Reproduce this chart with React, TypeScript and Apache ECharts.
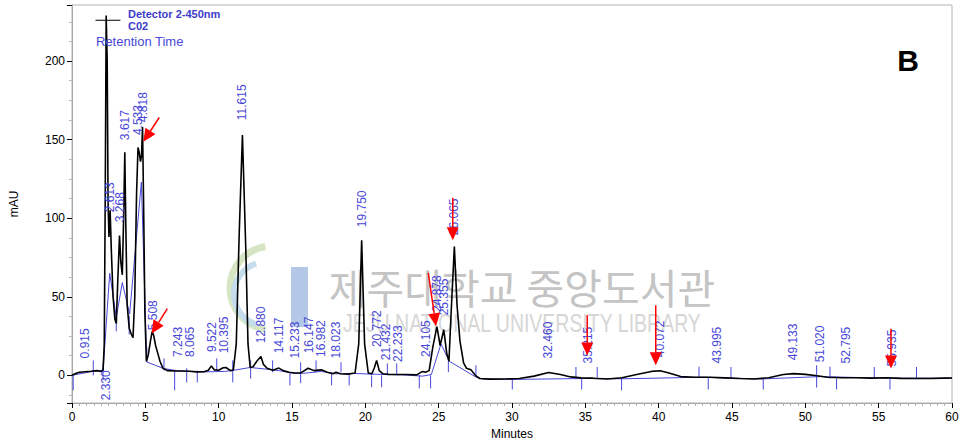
import React, { useEffect, useRef } from "react";
import * as echarts from "echarts";

const FONT = '"Liberation Sans", Arial, sans-serif';
const LABEL_BLUE = "#4848d8";
const TITLE_BLUE = "#3c3cc8";

// Detector trace: [minutes, mAU]
const trace: [number, number][] = [
  [0, 0], [0.2, 1.0], [0.5, 2.0], [0.9, 2.3], [1.3, 2.6], [1.7, 3.0], [2.0, 2.5], [2.12, 3.5],
  [2.2, 20], [2.27, 120], [2.33, 229], [2.4, 200], [2.46, 110], [2.52, 88], [2.6, 105], [2.68, 80],
  [2.8, 50], [2.92, 36], [3.02, 33], [3.12, 60], [3.24, 89], [3.33, 72], [3.43, 64], [3.52, 100],
  [3.6, 142], [3.67, 95], [3.76, 45], [3.9, 30], [4.05, 26], [4.16, 24], [4.28, 50], [4.4, 115],
  [4.5, 145], [4.58, 142], [4.67, 136], [4.74, 140], [4.81, 158], [4.88, 110], [4.97, 40], [5.07, 9],
  [5.2, 13], [5.35, 22], [5.47, 28], [5.58, 25], [5.7, 19], [5.85, 14], [6.0, 9], [6.2, 4.5],
  [6.5, 3.0], [7.0, 2.8], [7.5, 2.8], [8.0, 2.6], [8.5, 2.2], [9.0, 2.3], [9.3, 3.2], [9.5, 6.0],
  [9.7, 3.5], [10.0, 3.2], [10.3, 4.8], [10.5, 5.0], [10.8, 3.0], [11.0, 3.4], [11.2, 20], [11.4, 90],
  [11.62, 153], [11.85, 80], [12.0, 20], [12.15, 5], [12.35, 5.5], [12.6, 9], [12.88, 12], [13.05, 7],
  [13.3, 4.5], [13.7, 3.2], [14.1, 4.6], [14.4, 3], [14.8, 2], [15.2, 1.5], [15.6, 1.6], [16.1, 4.5],
  [16.5, 3], [17.0, 3.5], [17.4, 2], [17.8, 1], [18.0, 2], [18.3, 1], [18.8, 0.8], [19.3, 1.5],
  [19.55, 20], [19.75, 86], [19.95, 20], [20.2, 1.5], [20.45, 1], [20.62, 5], [20.77, 9.5], [20.95, 3],
  [21.2, 1], [21.6, 0.6], [22.2, 0.5], [22.8, 0.5], [23.5, 0.3], [23.9, 2.5], [24.1, 2], [24.35, 3],
  [24.6, 18], [24.88, 31], [25.1, 19], [25.35, 29], [25.55, 14], [25.7, 9], [25.85, 40], [26.07, 82],
  [26.25, 45], [26.45, 22], [26.7, 8], [26.9, 4.5], [27.2, 3.5], [27.5, 0], [27.8, -2], [28.5, -2.4],
  [29.5, -2.3], [30.5, -2], [31.5, -0.5], [32.5, 1.8], [33.3, 0.5], [34.0, -1], [34.7, -1.6], [35.5, -1.8],
  [36.5, -2.3], [37.5, -1.5], [38.5, 0.5], [39.5, 2.5], [40.1, 2.9], [40.7, 1.5], [41.5, -0.8], [42.5, -1.2],
  [43.5, -1.2], [44.5, -1.6], [45.5, -2], [46.5, -2.3], [47.5, -1.5], [48.5, 0.5], [49.2, 1.1], [50.0, 0.6],
  [50.8, -0.3], [51.5, -1.2], [52.5, -1.5], [53.5, -1.5], [54.5, -1.8], [55.5, -1.5], [56.5, -1.9], [57.5, -2],
  [58.5, -2], [59.5, -1.8], [60, -1.7],
];

// Integration baseline drawn by the data system
const integrationBaseline: [number, number][] = [
  [0, 0], [1.45, 2.6], [2.12, 3.2], [2.57, 65], [3.02, 37], [3.43, 59], [3.93, 39], [4.73, 123],
  [5.1, 8.5], [6.27, 4.3], [7.3, 2.8], [8.1, 2.5], [9.0, 2.2], [10.4, 2.5], [11.0, 3.2], [12.15, 5],
  [13.2, 4], [14.1, 3], [15.2, 1.2], [16.0, 1.5], [17.0, 2.5], [18.0, 1.0], [19.3, 1.2], [20.3, 0.8],
  [21.3, 0.6], [22.5, 0.3], [23.9, -0.5], [24.5, 0.5], [25.16, 20], [25.72, 9], [27.54, -1.1], [28, -2.3],
  [30, -2.6], [35, -2], [37.5, -2.2], [43, -1.2], [47, -2.3], [51, -0.8], [55, -1.7], [60, -1.8],
];

// Peak start / end markers: time, low mAU, high mAU
const boundaryTickTimes = [0.08, 1.45, 2.12, 3.02, 3.9, 5.1, 6.27, 7.0, 7.82, 8.54, 9.87, 10.96, 12.18, 13.68, 14.86, 15.59, 16.64, 17.7, 18.34, 18.9, 20.43, 21.11, 21.5, 22.14, 23.68, 24.45, 25.66, 27.54, 30.02, 34.36, 34.75, 35.81, 37.47, 42.75, 43.38, 44.93, 47.13, 50.77, 51.68, 52.13, 54.7, 55.77, 57.58];
const boundaryTickLow = [-9.5, 0, -3, 28, 26, 8.5, 3.2, -9.5, -4.5, -4.5, 3.2, -4.5, -2, 2, -6.4, -5, 2, -6.4, 2, -6.4, -7.6, -7.6, 0, 0, -8.3, -8.3, 2, -1, -9, -2, -9, -1.5, -9.5, -1.5, -9, -2, -9, -7.8, -2, -9, -2, -9, -2.5];
const boundaryTickHigh = [0, 9.5, 8, 40, 38, 18, 10.8, 3.2, 4.5, 3, 10.8, 9.5, 9.5, 9.5, 2, 8.3, 9.5, 2, 8.3, 1.3, 0, 0, 7.6, 7.6, 0, 0, 9, 6.4, -2, 5.3, -2, 5.3, -1.5, 5.5, -1.5, 5.3, -2, 6.4, 5.5, -2, 5.3, -2, 5.3];

// Retention-time labels and the mAU level where each label starts
const peakLabels = ["0.915", "2.330", "2.613", "3.268", "3.617", "4.533", "4.818", "5.508", "7.243", "8.065", "9.522", "10.395", "11.615", "12.880", "14.117", "15.233", "16.147", "16.982", "18.023", "19.750", "20.772", "21.432", "22.233", "24.105", "24.878", "25.355", "26.065", "32.460", "35.215", "40.072", "43.995", "49.133", "51.020", "52.795", "55.935"];
const peakLabelBase = [10.8, -15.9, 103.8, 97.5, 149.7, 152.9, 161.1, 28.7, 11.7, 11.7, 14.8, 14, 162.4, 20.4, 14, 10.8, 14, 11.7, 10.8, 94.3, 18, 9.6, 8.5, 11.7, 40.3, 38.2, 89.2, 10.8, 7.6, 11.5, 7.6, 9.6, 8.3, 7.6, 5.7];

// Red annotation arrows: start and tip, [minutes, mAU]
const arrowStart: [number, number][] = [[5.95, 164.1], [6.5, 42.5], [24.29, 65.2], [25.96, 113], [35.13, 38.2], [39.8, 44.6], [55.84, 29.7]];
const arrowTip: [number, number][] = [[4.86, 148.6], [5.43, 26.6], [24.82, 31.2], [25.96, 86], [35.13, 12.7], [39.8, 6.4], [55.84, 4.3]];

// Over-range marker on the solvent peak
const overRangeMark: [number, number][] = [[1.6, 226], [3.3, 226]];

export default function App() {
  const ref = useRef<HTMLDivElement>(null);
  useEffect(() => {
    if (!ref.current) return;
    const chart = echarts.init(ref.current, undefined, { renderer: "svg" });
    const option: any = {
      animation: false,
      backgroundColor: "#ffffff",
      textStyle: { fontFamily: FONT },
      grid: { left: 72, right: 12, top: 5, bottom: 42, show: true, borderColor: "#b4b4b4", borderWidth: 1 },
      xAxis: {
        type: "value",
        min: 0,
        max: 60,
        interval: 5,
        name: "Minutes",
        nameLocation: "middle",
        nameGap: 24,
        nameTextStyle: { color: "#000", fontSize: 12, fontFamily: FONT },
        axisLine: { show: true, onZero: false, lineStyle: { color: "#a8a8a8", width: 1 } },
        axisTick: { show: true, length: 5, lineStyle: { color: "#000" } },
        minorTick: { show: true, splitNumber: 10, length: 3, lineStyle: { color: "#b0b0b0" } },
        axisLabel: { color: "#000", fontSize: 12, margin: 8, fontFamily: FONT },
        splitLine: { show: false },
      },
      yAxis: {
        type: "value",
        min: -17.6,
        max: 235.7,
        splitNumber: 5,
        name: "mAU",
        nameLocation: "middle",
        nameGap: 52,
        nameTextStyle: { color: "#000", fontSize: 12, fontFamily: FONT },
        axisLine: { show: true, onZero: false, lineStyle: { color: "#a8a8a8", width: 1 } },
        axisTick: { show: true, length: 5, lineStyle: { color: "#000" } },
        minorTick: { show: true, splitNumber: 4, length: 3, lineStyle: { color: "#b8b8b8" } },
        axisLabel: { color: "#000", fontSize: 12, margin: 7, showMinLabel: false, showMaxLabel: false, fontFamily: FONT },
        splitLine: { show: false },
      },
      graphic: [
        // watermark (library stamp)
        { type: "arc", z: 0, shape: { cx: 272, cy: 288, r: 42, startAngle: Math.PI * 0.55, endAngle: Math.PI * 1.45 }, style: { stroke: "#d6e6c4", lineWidth: 7, fill: null } },
        { type: "arc", z: 0, shape: { cx: 266, cy: 294, r: 32, startAngle: Math.PI * 0.6, endAngle: Math.PI * 1.4 }, style: { stroke: "#c4dcec", lineWidth: 6, fill: null } },
        { type: "rect", z: 0, shape: { x: 291, y: 267, width: 17, height: 60 }, style: { fill: "#b2c8e6" } },
        { type: "text", z: 0, x: 522, y: 286, style: { text: "제주대학교 중앙도서관", fill: "#c4c4c4", font: '41px "Noto Sans CJK KR", sans-serif', align: "center", verticalAlign: "middle" } },
        { type: "text", z: 0, x: 522, y: 324, scaleX: 0.78, style: { text: "JEJU NATIONAL UNIVERSITY LIBRARY", fill: "#d6d6d6", font: `25px ${FONT}`, align: "center", verticalAlign: "middle" } },
        // header texts
        { type: "text", z: 10, x: 128, y: 14, style: { text: "Detector 2-450nm", fill: TITLE_BLUE, font: `bold 11px ${FONT}`, verticalAlign: "middle" } },
        { type: "text", z: 10, x: 128, y: 26, style: { text: "C02", fill: TITLE_BLUE, font: `bold 11px ${FONT}`, verticalAlign: "middle" } },
        { type: "text", z: 10, x: 96, y: 41, style: { text: "Retention Time", fill: LABEL_BLUE, font: `13px ${FONT}`, verticalAlign: "middle" } },
        { type: "text", z: 10, x: 908, y: 60, style: { text: "B", fill: "#000", font: `bold 30px ${FONT}`, align: "center", verticalAlign: "middle" } },
      ],
      series: [
        {
          type: "line",
          data: integrationBaseline,
          symbol: "none",
          lineStyle: { color: LABEL_BLUE, width: 1 },
          z: 3,
        },
        {
          type: "custom",
          data: boundaryTickTimes.map((t, i) => [t, boundaryTickLow[i], boundaryTickHigh[i]]),
          renderItem: (params: any, api: any) => {
            const a = api.coord([api.value(0), api.value(1)]);
            const b = api.coord([api.value(0), api.value(2)]);
            return { type: "line", shape: { x1: a[0], y1: a[1], x2: b[0], y2: b[1] }, style: { stroke: LABEL_BLUE, lineWidth: 1 } };
          },
          z: 3,
        },
        {
          type: "line",
          data: trace,
          symbol: "none",
          lineStyle: { color: "#000", width: 1.6 },
          z: 4,
        },
        {
          type: "line",
          data: overRangeMark,
          symbol: "none",
          lineStyle: { color: "#000", width: 1.2 },
          z: 4,
        },
        {
          type: "custom",
          data: peakLabels.map((s, i) => [parseFloat(s), peakLabelBase[i]]),
          renderItem: (params: any, api: any) => {
            const p = api.coord([api.value(0), api.value(1)]);
            return {
              type: "text",
              x: p[0],
              y: p[1],
              rotation: Math.PI / 2,
              style: { text: peakLabels[params.dataIndex], fill: LABEL_BLUE, font: `12px ${FONT}`, align: "left", verticalAlign: "middle" },
            };
          },
          z: 5,
        },
        {
          type: "custom",
          data: arrowStart.map((s, i) => [s[0], s[1], arrowTip[i][0], arrowTip[i][1]]),
          renderItem: (params: any, api: any) => {
            const a = api.coord([api.value(0), api.value(1)]);
            const b = api.coord([api.value(2), api.value(3)]);
            const dx = b[0] - a[0];
            const dy = b[1] - a[1];
            const len = Math.sqrt(dx * dx + dy * dy) || 1;
            const ux = dx / len;
            const uy = dy / len;
            const hl = 13;
            const hw = 6;
            const bx = b[0] - ux * hl;
            const by = b[1] - uy * hl;
            return {
              type: "group",
              children: [
                { type: "line", shape: { x1: a[0], y1: a[1], x2: bx, y2: by }, style: { stroke: "#ff0000", lineWidth: 1.5 } },
                { type: "polygon", shape: { points: [[b[0], b[1]], [bx - uy * hw, by + ux * hw], [bx + uy * hw, by - ux * hw]] }, style: { fill: "#ff0000" } },
              ],
            };
          },
          z: 6,
        },
      ],
    };
    chart.setOption(option);
    return () => chart.dispose();
  }, []);
  return <div ref={ref} style={{ position: "absolute", left: 0, top: 0, width: 964, height: 445 }} />;
}
